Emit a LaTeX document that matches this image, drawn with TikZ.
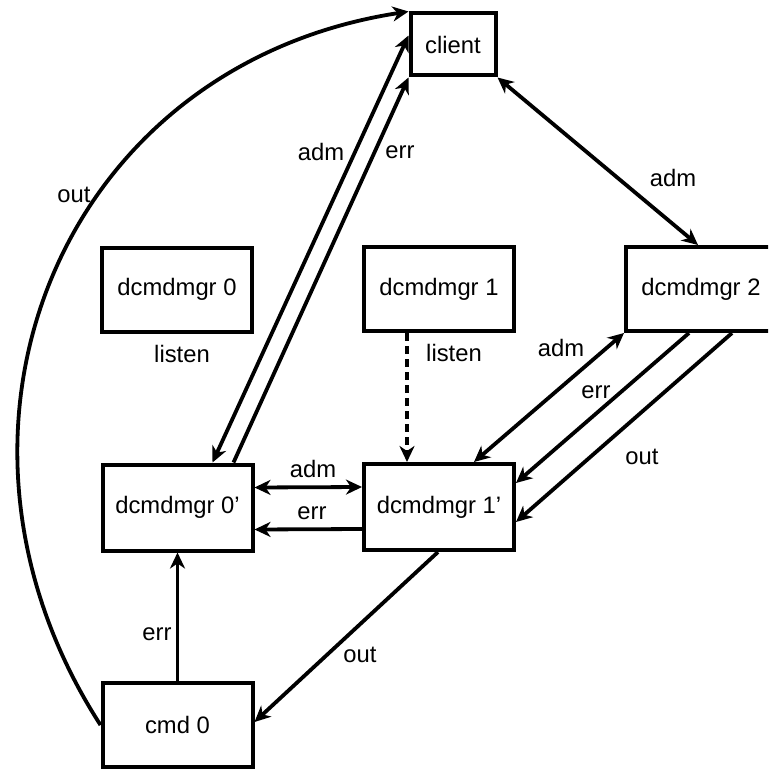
\documentclass[tikz,border=0pt]{standalone}
\usepackage{fontspec}
\setmainfont{Liberation Sans}
\usetikzlibrary{arrows.meta}
\tikzset{
  tipa/.tip={Stealth[length=16pt,width=15pt,inset=5pt]},
  box/.style={draw,line width=4pt,minimum width=150pt,minimum height=84pt,inner sep=0pt,font=\fontsize{23.8}{28}\selectfont},
  lbl/.style={inner sep=0pt,font=\fontsize{23.8}{28}\selectfont},
  conn/.style={line width=3.8pt,-tipa},
  bi/.style={line width=3.8pt,tipa-tipa},
}
\begin{document}
\begin{tikzpicture}[x=1pt,y=-1pt]
\useasboundingbox (0,0) rectangle (768,770);
\clip (0,0) rectangle (768,770);
% boxes
\node[box,minimum width=85pt,minimum height=62pt] (client) at (453,44.5) {client};
\node[box] (d0) at (177,289.5) {dcmdmgr 0};
\node[box] (d1) at (439,289) {dcmdmgr 1};
\node[box] (d2) at (701,289) {dcmdmgr 2};
\node[box,minimum height=86pt] (d0p) at (177.5,507.5) {dcmdmgr 0’};
\node[box,minimum height=86pt] (d1p) at (439,507) {dcmdmgr 1’};
\node[box] (cmd0) at (177.5,725) {cmd 0};
% connectors
\draw[conn] (cmd0.west) .. controls (-89,431) and (60,65) .. (client.north west);
\draw[bi] ([xshift=35pt]d0p.north) -- ([yshift=9pt]client.west);
\draw[conn] ([xshift=56pt]d0p.north) -- (client.south west);
\draw[bi] (client.south east) -- ([xshift=-3pt]d2.north);
\draw[conn,dash pattern=on 8pt off 5pt] ([xshift=-32pt]d1.south) -- ([xshift=-32pt]d1p.north);
\draw[bi] ([xshift=35pt]d1p.north) -- (d2.south west);
\draw[conn] ([xshift=-12pt]d2.south) -- ([yshift=24pt]d1p.east);
\draw[conn] ([xshift=31pt]d2.south) -- ([yshift=-15pt]d1p.east);
\draw[bi] ([yshift=20pt]d0p.east) -- ([yshift=20pt]d1p.west);
\draw[conn] ([yshift=-22pt]d1p.west) -- ([yshift=-22pt]d0p.east);
\draw[conn] ([xshift=-1pt]d1p.south) -- ([yshift=3pt]cmd0.east);
\draw[conn] (cmd0.north) -- (d0p.south);
% labels
\node[lbl] (l1) at (74,195) {out};
\node[lbl] (l2) at (321,152) {adm};
\node[lbl] (l3) at (400,152) {err};
\node[lbl] (l4) at (673,178) {adm};
\node[lbl] (l5) at (182,354) {listen};
\node[lbl] (l6) at (454,353) {listen};
\node[lbl] (l7) at (561,348) {adm};
\node[lbl] (l8) at (596,392) {err};
\node[lbl] (l9) at (642,457) {out};
\node[lbl] (l10) at (313,469) {adm};
\node[lbl] (l11) at (312,513) {err};
\node[lbl] (l12) at (157,634) {err};
\node[lbl] (l13) at (360,655) {out};
\end{tikzpicture}
\end{document}
